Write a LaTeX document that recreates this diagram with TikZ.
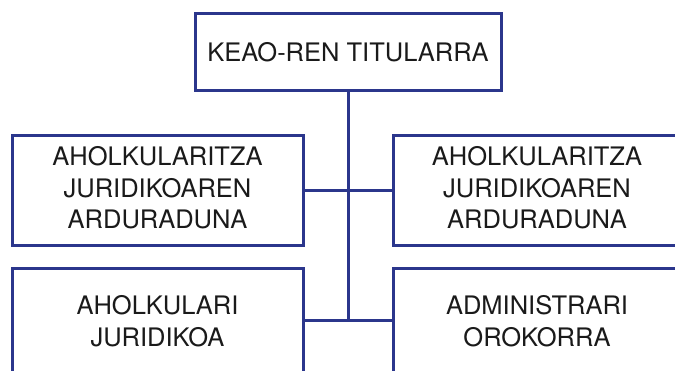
\documentclass[tikz,border=0pt]{standalone}
\usepackage{fontspec}
\setmainfont{TeX Gyre Heros}
\definecolor{boxblue}{RGB}{43,54,140}
\definecolor{txt}{RGB}{26,26,26}
\tikzset{
  orgbox/.style={draw=boxblue, line width=3pt, fill=white, rectangle, align=center,
    text=txt, inner sep=0pt, font=\fontsize{25.5}{31.5}\selectfont},
  link/.style={draw=boxblue, line width=3pt}
}
\begin{document}
\begin{tikzpicture}[x=1pt,y=-1pt]
\useasboundingbox (0,0) rectangle (675,371);
\clip (0,0) rectangle (675,371);
\node[orgbox, minimum width=306pt, minimum height=77pt] (top) at (348,52.5) {KEAO-REN TITULARRA};
\node[orgbox, minimum width=291pt, minimum height=110pt] (ml) at (157.5,191) {\raisebox{2.5pt}{\begin{tabular}{@{}c@{}}AHOLKULARITZA\\JURIDIKOAREN\\ARDURADUNA\end{tabular}}};
\node[orgbox, minimum width=288pt, minimum height=110pt] (mr) at (537,191) {\raisebox{2.5pt}{\begin{tabular}{@{}c@{}}AHOLKULARITZA\\JURIDIKOAREN\\ARDURADUNA\end{tabular}}};
\node[orgbox, minimum width=291pt, minimum height=104pt] (bl) at (157.5,321) {AHOLKULARI\\JURIDIKOA};
\node[orgbox, minimum width=288pt, minimum height=104pt] (br) at (537,321) {ADMINISTRARI\\OROKORRA};
\draw[link] (top.south) -- (top.south |- bl.east);
\draw[link] (ml.east) -- (mr.west);
\draw[link] (bl.east) -- (br.west);
\end{tikzpicture}
\end{document}
